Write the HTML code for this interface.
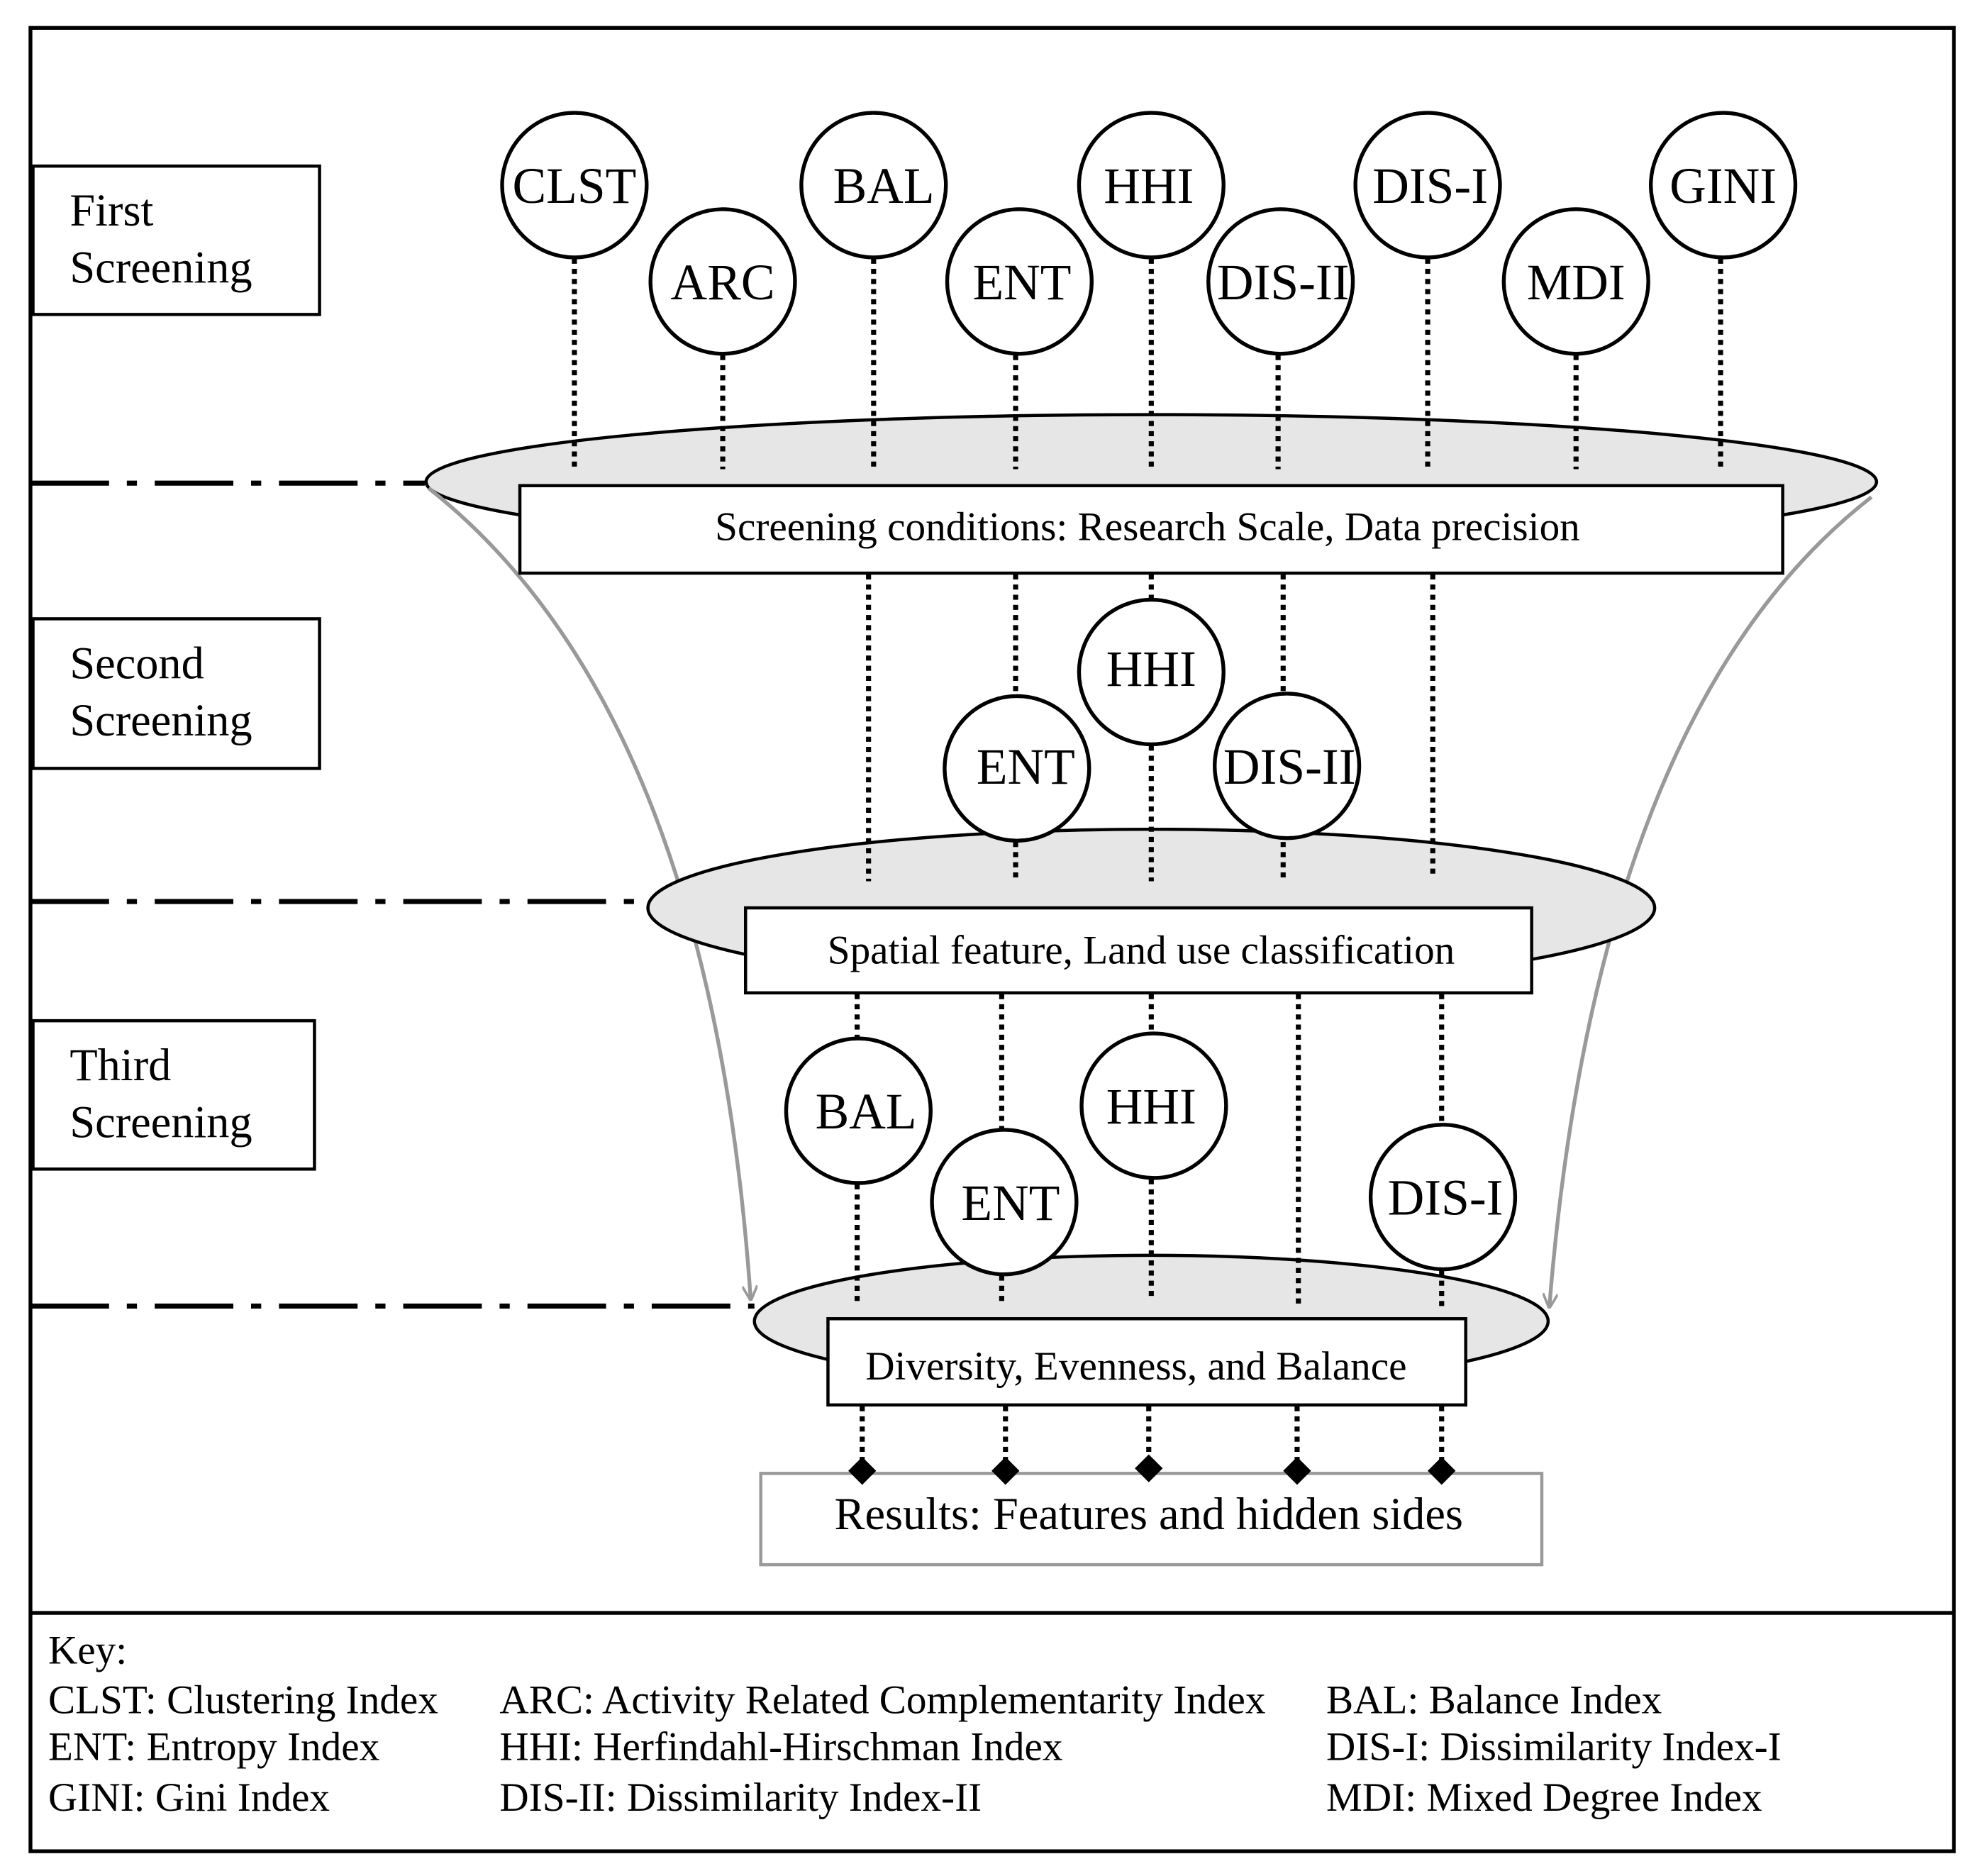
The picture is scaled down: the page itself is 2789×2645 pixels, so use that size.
<!DOCTYPE html>
<html><head><meta charset="utf-8"><style>html,body{margin:0;padding:0;background:#fff}svg{display:block}</style></head>
<body>
<svg width="2789" height="2645" viewBox="0 0 1560 1479.5" xmlns="http://www.w3.org/2000/svg" font-family="Liberation Serif, serif">
<defs>
<marker id="ar" viewBox="0 0 12 12" refX="10" refY="6" markerWidth="12" markerHeight="12" markerUnits="userSpaceOnUse" orient="auto"><path d="M0,0 L12,6 L0,12" fill="none" stroke="#999" stroke-width="2"/></marker>
</defs>
<rect x="24" y="22" width="1517" height="1438" fill="none" stroke="#000" stroke-width="3"/>
<line x1="24" y1="1272" x2="1541" y2="1272" stroke="#000" stroke-width="3"/>

<g fill="#fff" stroke="#000" stroke-width="2.5">
<rect x="26" y="131" width="226" height="117"/>
<rect x="26" y="488" width="226" height="118"/>
<rect x="26" y="805" width="222" height="117"/>
</g>
<g font-size="36" fill="#000">
<text x="55" y="178">First</text><text x="55" y="223">Screening</text>
<text x="55" y="535">Second</text><text x="55" y="580">Screening</text>
<text x="55" y="852">Third</text><text x="55" y="897">Screening</text>
</g>

<g stroke="#000" stroke-width="4" stroke-dasharray="62 14 8 14" fill="none">
<line x1="24" y1="381" x2="335" y2="381"/>
<line x1="24" y1="711" x2="510" y2="711"/>
<line x1="24" y1="1030" x2="595" y2="1030"/>
</g>

<ellipse cx="908" cy="380" rx="572" ry="53" fill="#e6e6e6" stroke="#000" stroke-width="2.5"/>
<path d="M338,385 Q560,560 592,1024" fill="none" stroke="#999" stroke-width="3" marker-end="url(#ar)"/>
<path d="M1476,392 Q1260,560 1222,1030" fill="none" stroke="#999" stroke-width="3" marker-end="url(#ar)"/>

<g stroke="#000" stroke-width="4" stroke-dasharray="4 4" fill="none">
<line x1="453" y1="204" x2="453" y2="370"/>
<line x1="570" y1="280" x2="570" y2="370"/>
<line x1="689" y1="204" x2="689" y2="370"/>
<line x1="801" y1="280" x2="801" y2="370"/>
<line x1="908" y1="204" x2="908" y2="370"/>
<line x1="1008" y1="280" x2="1008" y2="370"/>
<line x1="1126" y1="204" x2="1126" y2="370"/>
<line x1="1243" y1="280" x2="1243" y2="370"/>
<line x1="1357" y1="204" x2="1357" y2="370"/>
</g>

<ellipse cx="908" cy="716" rx="397" ry="62" fill="#e6e6e6" stroke="#000" stroke-width="2.5"/>
<rect x="410" y="383" width="996" height="69" fill="#fff" stroke="#000" stroke-width="2.5"/>
<text x="905" y="426" font-size="32" text-anchor="middle">Screening conditions: Research Scale, Data precision</text>

<g stroke="#000" stroke-width="4" stroke-dasharray="4 4" fill="none">
<line x1="685" y1="453" x2="685" y2="695"/>
<line x1="801" y1="453" x2="801" y2="548"/>
<line x1="908" y1="453" x2="908" y2="472"/>
<line x1="1012" y1="453" x2="1012" y2="548"/>
<line x1="1130" y1="453" x2="1130" y2="692"/>
<line x1="801" y1="664" x2="801" y2="695"/>
<line x1="908" y1="588" x2="908" y2="695"/>
<line x1="1012" y1="664" x2="1012" y2="695"/>
</g>

<ellipse cx="908" cy="1042" rx="313" ry="52" fill="#e6e6e6" stroke="#000" stroke-width="2.5"/>
<rect x="588" y="716" width="620" height="67" fill="#fff" stroke="#000" stroke-width="2.5"/>
<text x="900" y="760" font-size="32" text-anchor="middle">Spatial feature, Land use classification</text>

<g stroke="#000" stroke-width="4" stroke-dasharray="4 4" fill="none">
<line x1="676" y1="784" x2="676" y2="818"/>
<line x1="790" y1="784" x2="790" y2="890"/>
<line x1="908" y1="784" x2="908" y2="815"/>
<line x1="1024" y1="784" x2="1024" y2="1030"/>
<line x1="1137" y1="784" x2="1137" y2="886"/>
<line x1="676" y1="934" x2="676" y2="1030"/>
<line x1="790" y1="1006" x2="790" y2="1030"/>
<line x1="908" y1="930" x2="908" y2="1025"/>
<line x1="1137" y1="1002" x2="1137" y2="1030"/>
</g>

<rect x="653" y="1040" width="503" height="68" fill="#fff" stroke="#000" stroke-width="2.5"/>
<text x="896" y="1088" font-size="32" text-anchor="middle">Diversity, Evenness, and Balance</text>

<g stroke="#000" stroke-width="4" stroke-dasharray="4 4" fill="none">
<line x1="680" y1="1109" x2="680" y2="1152"/>
<line x1="793" y1="1109" x2="793" y2="1152"/>
<line x1="906" y1="1109" x2="906" y2="1150"/>
<line x1="1023" y1="1109" x2="1023" y2="1152"/>
<line x1="1137" y1="1109" x2="1137" y2="1152"/>
</g>
<rect x="600" y="1162" width="616" height="72" fill="#fff" stroke="#999" stroke-width="2.5"/>
<g fill="#000">
<path d="M680,1149 l11,11 l-11,11 l-11,-11z"/>
<path d="M793,1149 l11,11 l-11,11 l-11,-11z"/>
<path d="M906,1147 l11,11 l-11,11 l-11,-11z"/>
<path d="M1023,1149 l11,11 l-11,11 l-11,-11z"/>
<path d="M1137,1149 l11,11 l-11,11 l-11,-11z"/>
</g>
<text x="906" y="1206" font-size="36" text-anchor="middle">Results: Features and hidden sides</text>

<g fill="#fff" stroke="#000" stroke-width="3">
<circle cx="453" cy="146" r="57"/><circle cx="570" cy="222" r="57"/><circle cx="689" cy="146" r="57"/>
<circle cx="804" cy="222" r="57"/><circle cx="908" cy="146" r="57"/><circle cx="1010" cy="222" r="57"/>
<circle cx="1126" cy="146" r="57"/><circle cx="1243" cy="222" r="57"/><circle cx="1359" cy="146" r="57"/>
<circle cx="908" cy="530" r="57"/><circle cx="802" cy="606" r="57"/><circle cx="1015" cy="604" r="57"/>
<circle cx="677" cy="876" r="57"/><circle cx="792" cy="948" r="57"/><circle cx="910" cy="872" r="57"/><circle cx="1138" cy="944" r="57"/>
</g>
<g font-size="40" text-anchor="middle" fill="#000">
<text x="453" y="160">CLST</text><text x="570" y="236">ARC</text><text x="697" y="160">BAL</text>
<text x="806" y="236">ENT</text><text x="906" y="160">HHI</text><text x="1012" y="236">DIS-II</text>
<text x="1128" y="160">DIS-I</text><text x="1243" y="236">MDI</text><text x="1359" y="160">GINI</text>
<text x="908" y="541">HHI</text><text x="809" y="618">ENT</text><text x="1017" y="618">DIS-II</text>
<text x="683" y="890">BAL</text><text x="797" y="962">ENT</text><text x="908" y="886">HHI</text><text x="1140" y="958">DIS-I</text>
</g>

<g font-size="32" fill="#000">
<text x="38" y="1312">Key:</text>
<text x="38" y="1351">CLST: Clustering Index</text>
<text x="394" y="1351">ARC: Activity Related Complementarity Index</text>
<text x="1046" y="1351">BAL: Balance Index</text>
<text x="38" y="1388">ENT: Entropy Index</text>
<text x="394" y="1388">HHI: Herfindahl-Hirschman Index</text>
<text x="1046" y="1388">DIS-I: Dissimilarity Index-I</text>
<text x="38" y="1428">GINI: Gini Index</text>
<text x="394" y="1428">DIS-II: Dissimilarity Index-II</text>
<text x="1046" y="1428">MDI: Mixed Degree Index</text>
</g>
</svg>
</body></html>
